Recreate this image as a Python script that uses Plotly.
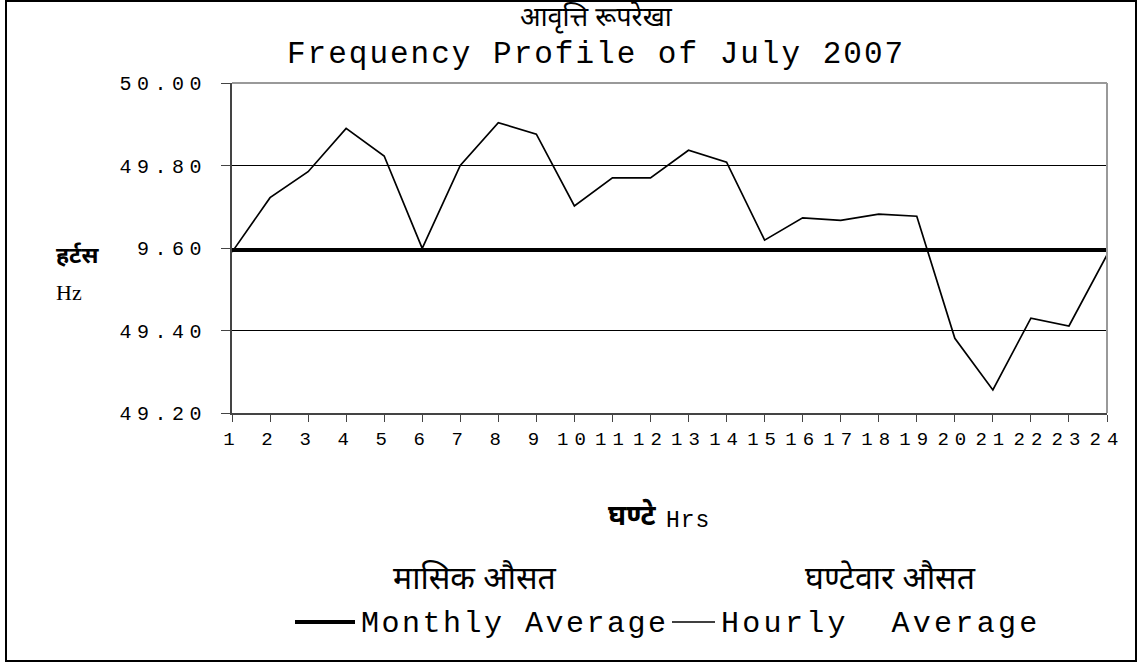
import plotly.graph_objects as go

hours = list(range(1, 25))
hour_labels = [str(h) for h in hours]
hourly_avg = [49.590, 49.722, 49.785, 49.890, 49.823, 49.599, 49.800, 49.904,
              49.876, 49.702, 49.770, 49.770, 49.837, 49.808, 49.619, 49.673,
              49.667, 49.682, 49.677, 49.381, 49.256, 49.430, 49.411, 49.583]
monthly_avg = [49.595] * 24
y_ticks = [49.20, 49.40, 49.60, 49.80, 50.00]
y_tick_labels = ["49.20", "49.40", "9.60", "49.80", "50.00"]

W, H = 1139, 664
L, R, T, B = 232, 32, 83, 251
PW, PH = W - L - R, H - T - B


def px(x):
    return (x - L) / PW


def py(y):
    return (T + PH - y) / PH


MONO = "Liberation Mono, Courier New, monospace"
DEVA = "Noto Sans Devanagari, Lohit Devanagari, Mangal, FreeSans, sans-serif"


def spaced(s, sp):
    return f"<span style='letter-spacing:{sp}px'>{s}</span>"


fig = go.Figure()
fig.add_trace(go.Scatter(x=hours, y=monthly_avg, mode="lines", name="Monthly Average",
                         line=dict(color="black", width=4), showlegend=False))
fig.add_trace(go.Scatter(x=hours, y=hourly_avg, mode="lines", name="Hourly Average",
                         line=dict(color="black", width=1.7), showlegend=False))

fig.update_layout(
    width=W, height=H,
    margin=dict(l=L, r=R, t=T, b=B, pad=0),
    paper_bgcolor="white", plot_bgcolor="white",
    showlegend=False,
    xaxis=dict(range=[1, 24], tickvals=hours,
               ticktext=[spaced(t, 6) for t in hour_labels],
               showgrid=False, zeroline=False,
               showline=True, linecolor="#444", linewidth=2,
               ticks="outside", ticklen=7, tickcolor="#444", tickwidth=1,
               tickfont=dict(family=MONO, size=19, color="black")),
    yaxis=dict(range=[49.20, 50.00], tickvals=y_ticks,
               ticktext=[spaced(t, 5.5) for t in y_tick_labels],
               showgrid=True, gridcolor="black", gridwidth=1, zeroline=False,
               showline=True, linecolor="#444", linewidth=2,
               ticks="outside", ticklen=9, tickcolor="#444", tickwidth=1,
               ticklabelstandoff=10,
               tickfont=dict(family=MONO, size=20, color="black")),
)

shapes = [
    dict(type="line", xref="paper", yref="paper", x0=0, x1=1, y0=1, y1=1,
         line=dict(color="#999", width=2), layer="above"),
    dict(type="line", xref="paper", yref="paper", x0=1, x1=1, y0=0, y1=1,
         line=dict(color="#999", width=2), layer="above"),
    dict(type="rect", xref="paper", yref="paper", x0=px(6), x1=px(1136), y0=py(661), y1=py(1),
         line=dict(color="black", width=2)),
    dict(type="line", xref="paper", yref="paper", x0=px(295), x1=px(355), y0=py(622), y1=py(622),
         line=dict(color="black", width=4)),
    dict(type="line", xref="paper", yref="paper", x0=px(672), x1=px(715), y0=py(622), y1=py(622),
         line=dict(color="black", width=1.5)),
]
fig.update_layout(shapes=shapes)


def ann(text, x, y, size, family, xanchor="center", bold=False):
    fig.add_annotation(text=f"<b>{text}</b>" if bold else text,
                       xref="paper", yref="paper", x=px(x), y=py(y),
                       xanchor=xanchor, yanchor="middle", showarrow=False,
                       borderpad=0,
                       font=dict(family=family, size=size, color="black"))


ann("आवृत्ति रूपरेखा", 596, 19, 27, DEVA)
ann(spaced("Frequency Profile of July 2007", 2), 596, 55, 31, MONO)
ann("हर्टस", 55, 257, 23, DEVA, xanchor="left", bold=True)
ann("Hz", 55, 292, 22, "Liberation Serif, Times New Roman, serif", xanchor="left")
ann("घण्टे", 658, 517, 28, DEVA, xanchor="right", bold=True)
ann(spaced("Hrs", 1), 665, 521, 23, MONO, xanchor="left")
ann("मासिक औसत", 475, 581, 32, DEVA)
ann("घण्टेवार औसत", 890, 581, 32, DEVA)
ann(spaced("Monthly Average", 2.5), 360, 624, 30, MONO, xanchor="left")
ann(spaced("Hourly\u00a0\u00a0Average", 3.3), 720, 624, 30, MONO, xanchor="left")

fig.write_html("out.html", config={"displayModeBar": False},
               post_script="document.body.style.margin='0';document.body.style.overflow='hidden';")
